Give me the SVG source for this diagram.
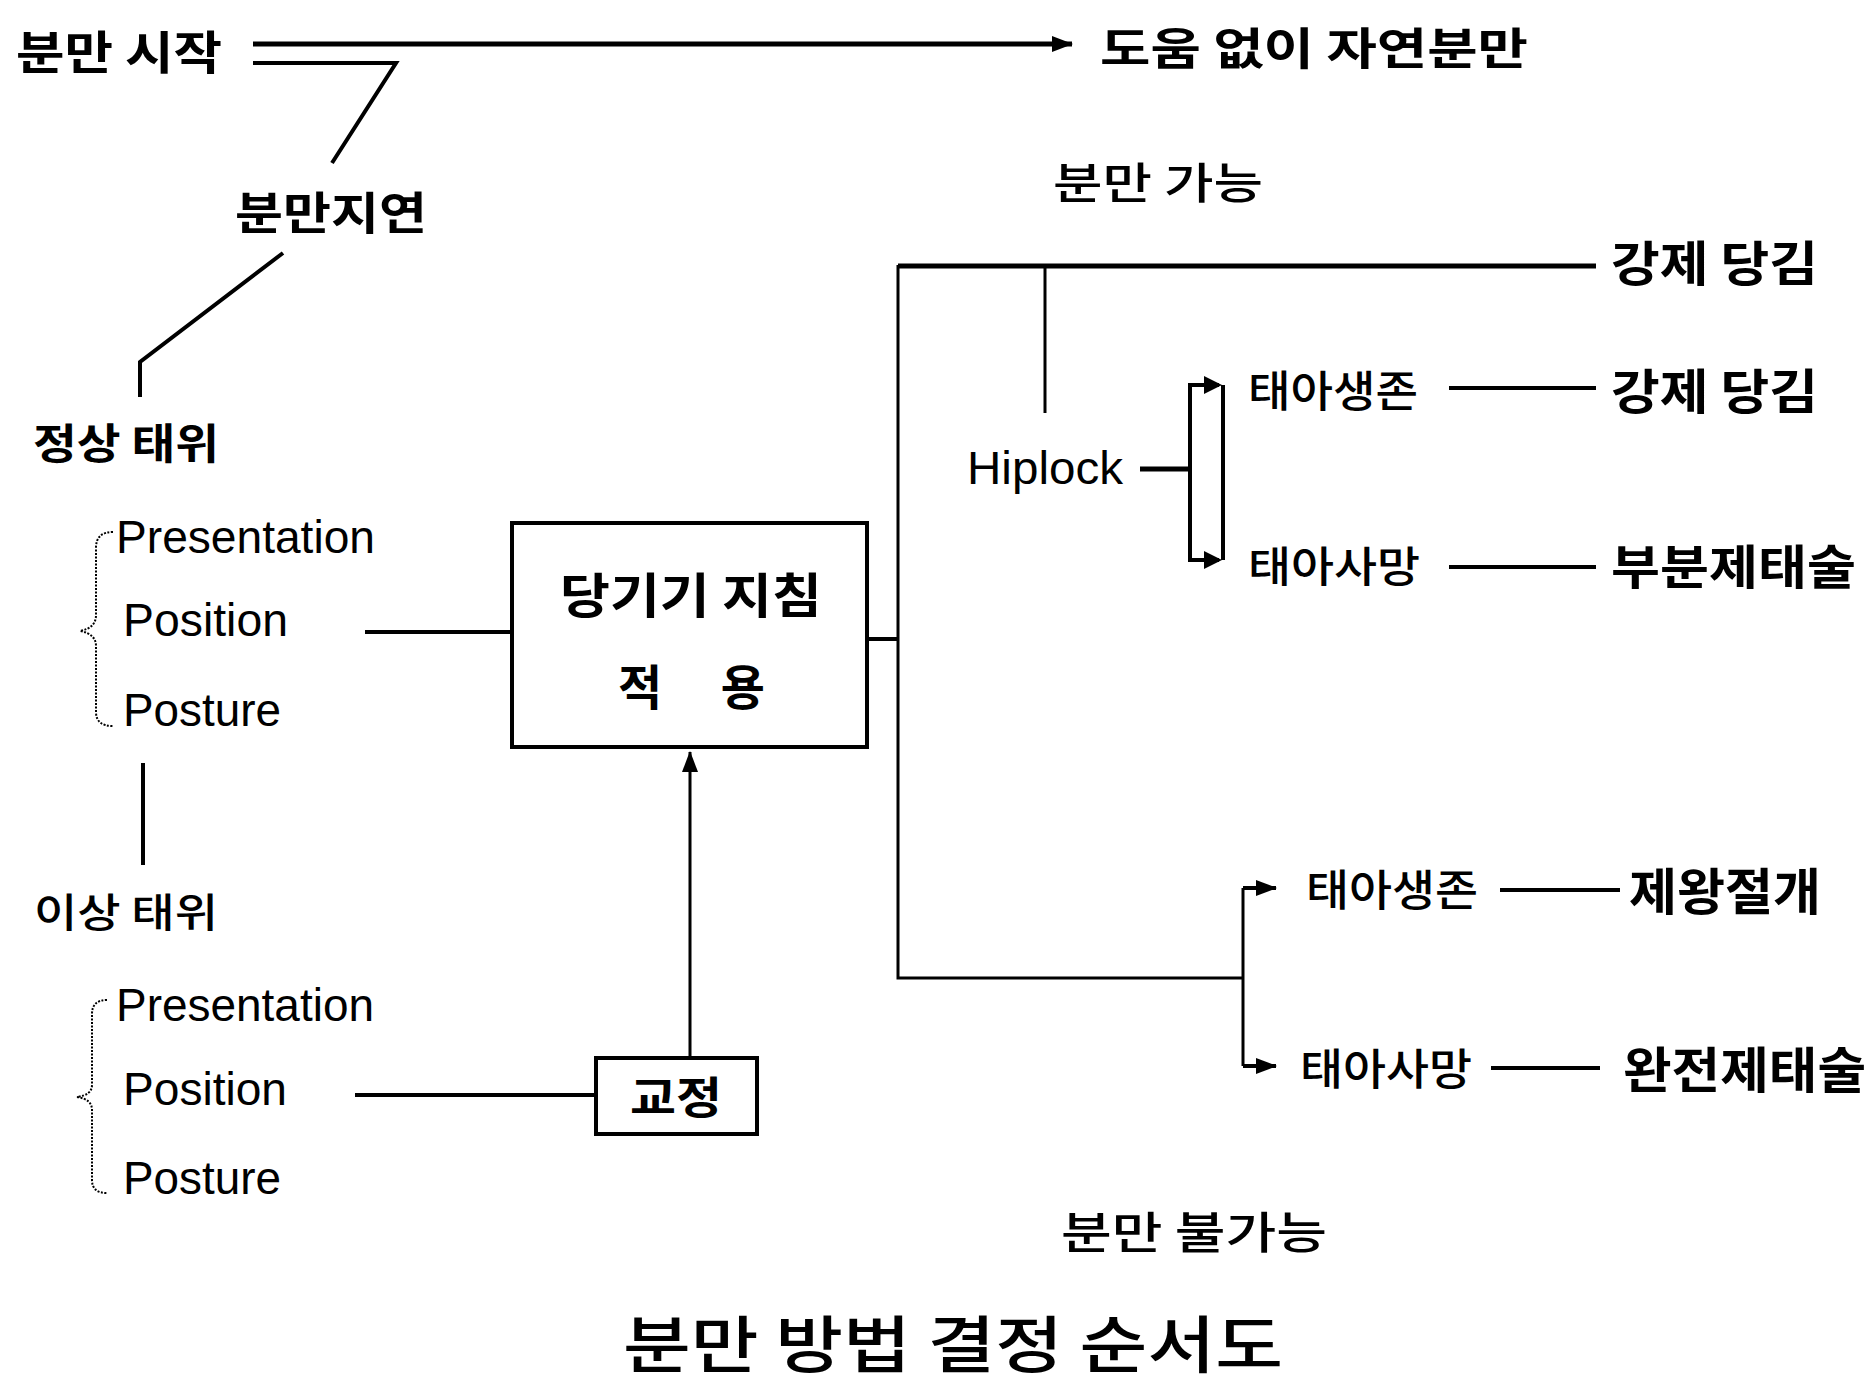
<svg xmlns="http://www.w3.org/2000/svg" width="1874" height="1383" viewBox="0 0 1874 1383">
<style>
.k{font-family:"Noto Sans CJK KR","Noto Sans",sans-serif;font-weight:700;fill:#000}
.km{font-family:"Noto Sans CJK KR","Noto Sans",sans-serif;font-weight:500;fill:#000}
.l{font-family:"Liberation Sans",Arial,sans-serif;font-size:46px;fill:#000}
.ln{fill:none;stroke:#000;stroke-width:4;stroke-linecap:butt;stroke-linejoin:miter}
.th{stroke-width:5}
.tn{stroke-width:3}
.br{fill:none;stroke:#000;stroke-width:2;stroke-dasharray:2 1.5}
.box{fill:#fff;stroke:#000;stroke-width:4}
.ah{fill:#000}
</style>
<rect width="1874" height="1383" fill="#fff"/>
<defs>
<marker id="arr" markerUnits="userSpaceOnUse" markerWidth="22" markerHeight="18" refX="20" refY="9" orient="auto">
<path d="M0,1 L21,9 L0,17 Z" fill="#000"/>
</marker>
</defs>

<g id="connectors">
<path class="ln th" d="M253 44 H1072" marker-end="url(#arr)"/>
<path class="ln" d="M253 63 H396 L332 163"/>
<path class="ln" d="M283 253 L140 362 V397"/>
<path class="ln" d="M143 763 V865"/>
<path class="ln" d="M365 632 H513"/>
<path class="ln" d="M867 639 H898"/>
<path class="ln tn" d="M898 265 V978 H1243"/>
<path class="ln th" d="M898 266 H1596"/>
<path class="ln tn" d="M1045 266 V413"/>
<path class="ln th" d="M1140 469 H1190"/>
<path class="ln" d="M1219 385 H1190 V560 H1219" />
<path class="ln" d="M1223 385 V560"/>
<polygon class="ah" points="1204,376 1222,385 1204,394"/>
<polygon class="ah" points="1204,551 1222,560 1204,569"/>
<path class="ln" d="M1449 388 H1596"/>
<path class="ln" d="M1449 567 H1596"/>
<path class="ln tn" d="M1243 888 V1066"/>
<path class="ln" d="M1243 888 H1276" marker-end="url(#arr)"/>
<path class="ln" d="M1243 1066 H1276" marker-end="url(#arr)"/>
<path class="ln" d="M1500 890 H1620"/>
<path class="ln" d="M1491 1068 H1600"/>
<path class="ln" d="M355 1095 H596"/>
<path class="ln tn" d="M690 1058 V752" marker-end="url(#arr)"/>
<path class="br" d="M113 532 Q96 532 96 548 V615 Q96 628 80 631 Q96 634 96 646 V712 Q96 726 113 726"/>
<path class="br" d="M107 1000 Q92 1000 92 1014 V1085 Q92 1095 77 1097 Q92 1099 92 1110 V1180 Q92 1193 107 1193"/>
</g>

<g id="n-start"><text class="k" x="16" y="69" font-size="46" textLength="206" lengthAdjust="spacingAndGlyphs">분만 시작</text></g>
<g id="n-natural"><text class="k" x="1100" y="65" font-size="44" textLength="428" lengthAdjust="spacingAndGlyphs">도움 없이 자연분만</text></g>
<g id="n-delay"><text class="k" x="235" y="230" font-size="45" textLength="192" lengthAdjust="spacingAndGlyphs">분만지연</text></g>
<g id="n-normal"><text class="k" x="33" y="459" font-size="42" textLength="186" lengthAdjust="spacingAndGlyphs">정상 태위</text></g>
<g id="n-normal-list">
<text class="l" x="116" y="553" textLength="259" lengthAdjust="spacingAndGlyphs">Presentation</text>
<text class="l" x="123" y="636" textLength="165" lengthAdjust="spacingAndGlyphs">Position</text>
<text class="l" x="123" y="726" textLength="158" lengthAdjust="spacingAndGlyphs">Posture</text>
</g>
<g id="n-abnormal"><text class="km" x="34" y="927" font-size="40" textLength="184" lengthAdjust="spacingAndGlyphs">이상 태위</text></g>
<g id="n-abnormal-list">
<text class="l" x="116" y="1021" textLength="258" lengthAdjust="spacingAndGlyphs">Presentation</text>
<text class="l" x="123" y="1105" textLength="164" lengthAdjust="spacingAndGlyphs">Position</text>
<text class="l" x="123" y="1194" textLength="158" lengthAdjust="spacingAndGlyphs">Posture</text>
</g>
<g id="n-guide">
<rect class="box" x="512" y="523" width="355" height="224"/>
<text class="k" x="560" y="613" font-size="48" textLength="262" lengthAdjust="spacingAndGlyphs">당기기 지침</text>
<text class="k" x="618" y="705" font-size="48" textLength="147" lengthAdjust="spacing">적 용</text>
</g>
<g id="n-correct">
<rect class="box" x="596" y="1058" width="161" height="76"/>
<text class="k" x="630" y="1114" font-size="44" textLength="92" lengthAdjust="spacingAndGlyphs">교정</text>
</g>
<g id="n-possible"><text class="km" x="1053" y="199" font-size="43" textLength="210" lengthAdjust="spacingAndGlyphs">분만 가능</text></g>
<g id="n-forceps1"><text class="k" x="1611" y="281" font-size="48" textLength="207" lengthAdjust="spacingAndGlyphs">강제 당김</text></g>
<g id="n-hiplock"><text class="l" x="967" y="484" font-size="44" textLength="156" lengthAdjust="spacingAndGlyphs">Hiplock</text></g>
<g id="n-alive1"><text class="km" x="1248" y="407" font-size="43" textLength="170" lengthAdjust="spacingAndGlyphs">태아생존</text></g>
<g id="n-forceps2"><text class="k" x="1611" y="409" font-size="48" textLength="207" lengthAdjust="spacingAndGlyphs">강제 당김</text></g>
<g id="n-dead1"><text class="km" x="1248" y="582" font-size="42" textLength="172" lengthAdjust="spacingAndGlyphs">태아사망</text></g>
<g id="n-partial"><text class="k" x="1611" y="584" font-size="47" textLength="245" lengthAdjust="spacingAndGlyphs">부분제태술</text></g>
<g id="n-alive2"><text class="km" x="1306" y="906" font-size="43" textLength="172" lengthAdjust="spacingAndGlyphs">태아생존</text></g>
<g id="n-cesarean"><text class="k" x="1629" y="910" font-size="50" textLength="192" lengthAdjust="spacingAndGlyphs">제왕절개</text></g>
<g id="n-dead2"><text class="km" x="1300" y="1085" font-size="43" textLength="172" lengthAdjust="spacingAndGlyphs">태아사망</text></g>
<g id="n-complete"><text class="k" x="1623" y="1088" font-size="49" textLength="243" lengthAdjust="spacingAndGlyphs">완전제태술</text></g>
<g id="n-impossible"><text class="km" x="1061" y="1249" font-size="44" textLength="266" lengthAdjust="spacingAndGlyphs">분만 불가능</text></g>
<g id="title"><text class="km" x="623" y="1368" font-size="62" textLength="660" lengthAdjust="spacingAndGlyphs">분만 방법 결정 순서도</text></g>
</svg>
